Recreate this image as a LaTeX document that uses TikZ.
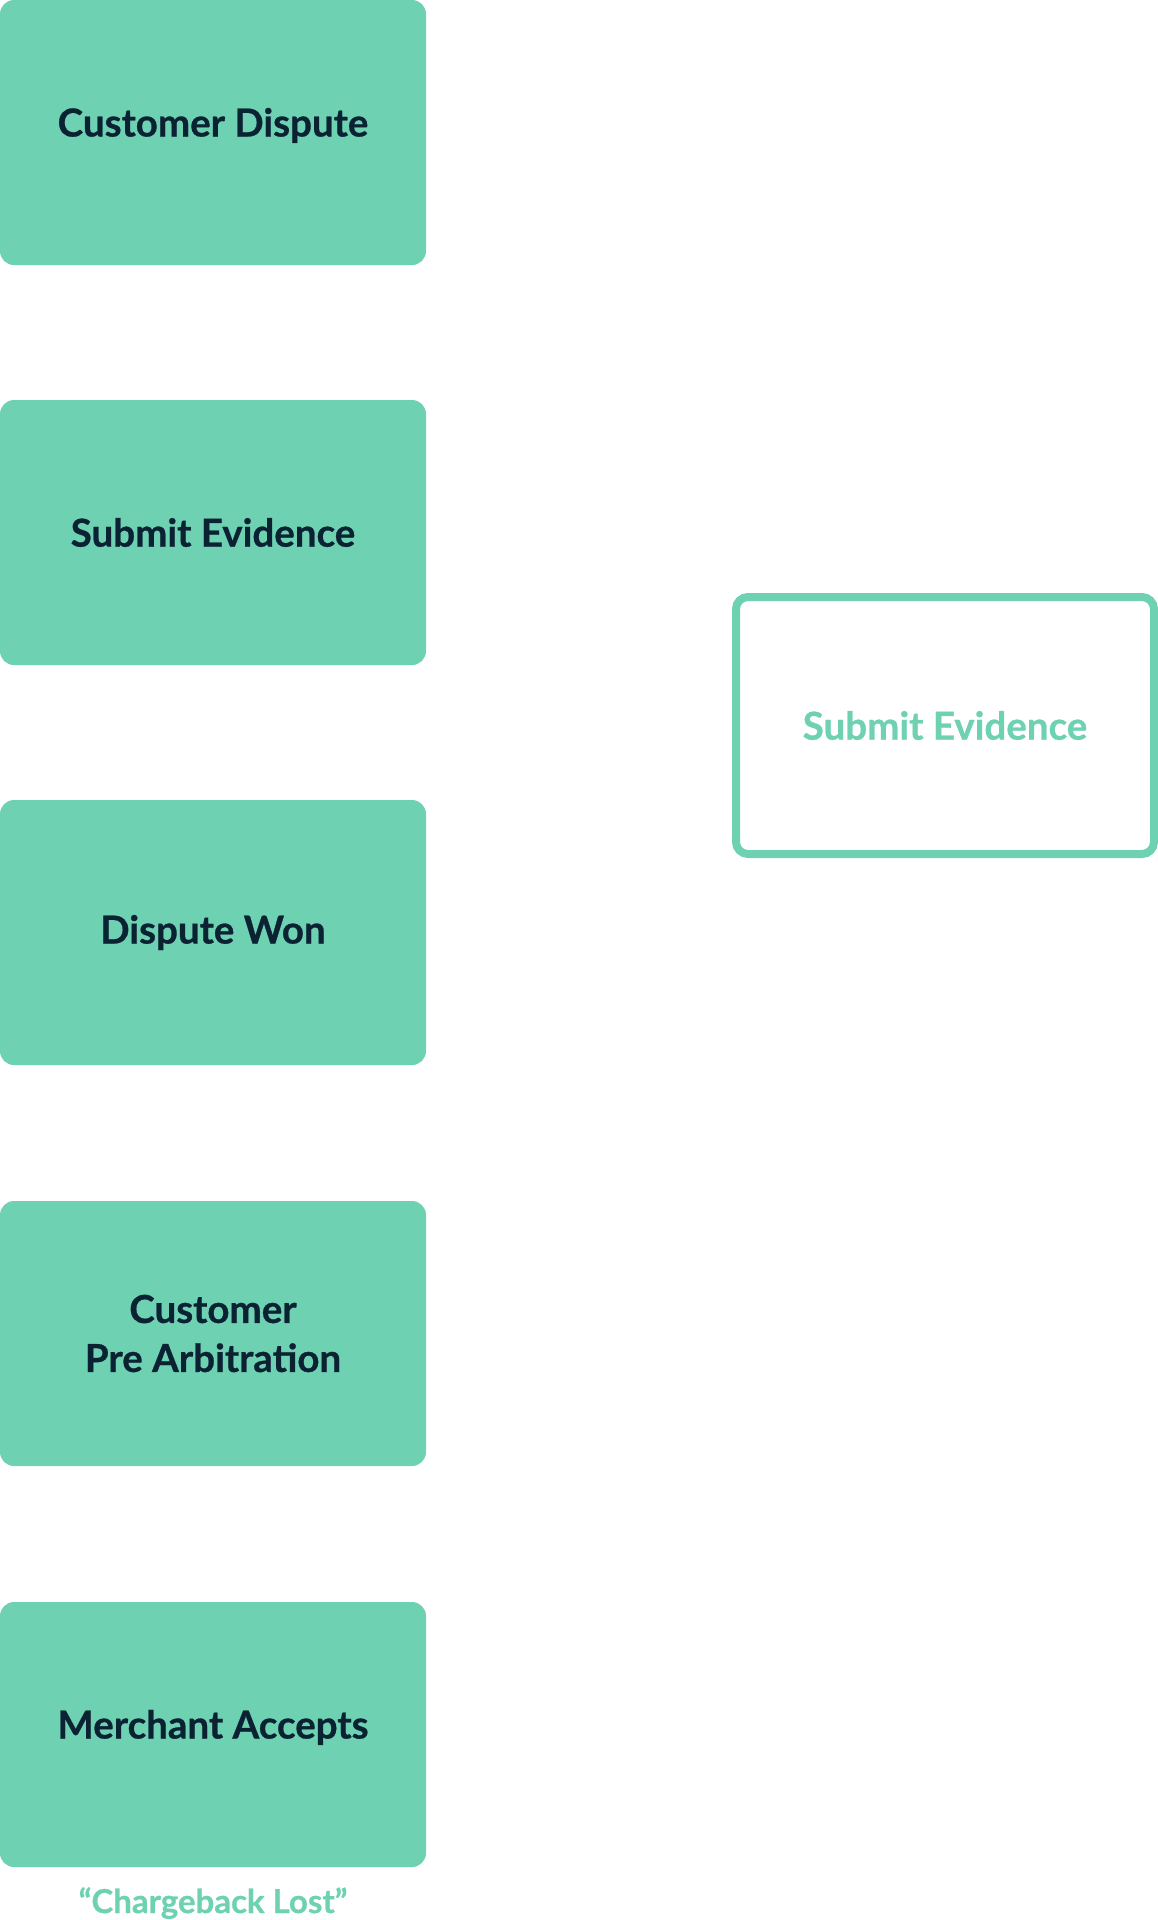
\documentclass[tikz,border=0pt]{standalone}
\usepackage{fontspec}
\setmainfont{Lato}[BoldFeatures={FakeBold=0.7}]
\definecolor{mint}{HTML}{6DD1B2}
\definecolor{navy}{HTML}{0B2233}
\begin{document}
\begin{tikzpicture}[x=1pt,y=-1pt,
  stagebox/.style={fill=mint, rounded corners=14pt, minimum width=426pt, minimum height=265pt,
    inner sep=0pt, outer sep=0pt, anchor=north west, text=navy, align=center,
    font=\fontsize{38.5}{49}\selectfont\bfseries},
  raised/.style={text height=28pt, text depth=20pt},
  outlinebox/.style={draw=mint, line width=8pt, rounded corners=12pt, minimum width=418pt, minimum height=257pt,
    inner sep=0pt, outer sep=0pt, text=mint, font=\fontsize{38.5}{49}\selectfont\bfseries},
  caption/.style={text=mint, font=\fontsize{33}{40}\selectfont\bfseries, inner sep=0pt}]
\useasboundingbox (0,0) rectangle (1158,1920);
\node[stagebox, raised] (dispute) at (0,0) {Customer Dispute};
\node[stagebox] (evidence) at (0,400) {Submit Evidence};
\node[stagebox] (won) at (0,800) {Dispute Won};
\node[stagebox] (prearb) at (0,1201) {Customer\\Pre Arbitration};
\node[stagebox, raised] (accepts) at (0,1602) {Merchant Accepts};
\node[caption, anchor=base] (lost) at (213,1913) {“Chargeback Lost”};
\node[outlinebox] (evidence2) at (945,725.5) {Submit Evidence};
\end{tikzpicture}
\end{document}
